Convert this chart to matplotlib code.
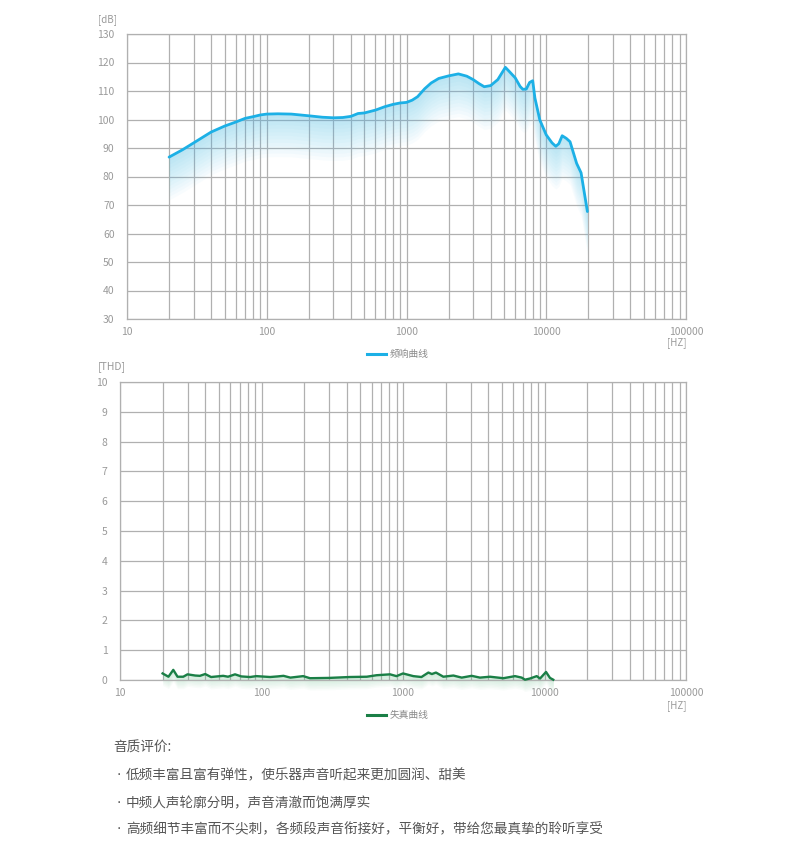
import numpy as np
import matplotlib
matplotlib.use("Agg")
import matplotlib.pyplot as plt
from matplotlib.lines import Line2D

plt.rcParams['font.family'] = ['Noto Sans CJK SC', 'DejaVu Sans']

# ---------------- data ----------------
fr_freq = [20, 25, 30, 40, 50, 60, 70, 80, 90, 100, 120, 150, 200, 250, 300, 350,
           400, 450, 500, 600, 700, 800, 900, 1000, 1100, 1200, 1350, 1500, 1700,
           2000, 2350, 2700, 3000, 3300, 3600, 4000, 4500, 5100, 5500, 6000, 6500,
           6800, 7200, 7600, 8000, 8300, 9000, 10000, 11000, 11700, 12300, 13000,
           13900, 14800, 16500, 17750, 19700]
fr_db = [86.8, 89.4, 91.8, 95.6, 97.7, 99.1, 100.4, 101.0, 101.6, 101.9, 102.0,
         101.9, 101.3, 100.8, 100.6, 100.7, 101.1, 102.1, 102.3, 103.3, 104.5,
         105.3, 105.8, 106.0, 106.8, 108.0, 110.8, 112.8, 114.4, 115.3, 116.0,
         115.2, 114.0, 112.6, 111.5, 111.9, 114.0, 118.3, 116.6, 114.6, 111.6,
         110.6, 110.7, 113.0, 113.6, 107.5, 99.8, 94.6, 91.8, 90.6, 91.5, 94.3,
         93.4, 92.2, 84.6, 81.3, 67.7]

thd_freq = [20, 22, 23.8, 25.5, 28, 30, 34, 36.7, 40, 44, 53.6, 58, 65, 72, 83, 92,
            115, 130, 143, 160, 197, 220, 300, 420, 555, 650, 810, 900, 1000, 1183,
            1350, 1511, 1600, 1710, 1928, 2270, 2600, 3057, 3498, 4120, 5118, 6190,
            6900, 7280, 7900, 8810, 9300, 10250, 10930, 11530]
thd_val = [0.22, 0.11, 0.34, 0.11, 0.11, 0.19, 0.15, 0.14, 0.20, 0.10, 0.14, 0.11,
           0.19, 0.12, 0.10, 0.13, 0.10, 0.12, 0.14, 0.08, 0.13, 0.06, 0.07, 0.10,
           0.11, 0.16, 0.19, 0.13, 0.22, 0.13, 0.10, 0.25, 0.20, 0.25, 0.11, 0.15,
           0.08, 0.14, 0.08, 0.11, 0.06, 0.13, 0.08, 0.01, 0.05, 0.13, 0.05, 0.27,
           0.07, 0.01]

fr_yticks = [30, 40, 50, 60, 70, 80, 90, 100, 110, 120, 130]
thd_yticks = [0, 1, 2, 3, 4, 5, 6, 7, 8, 9, 10]
xticks = [10, 100, 1000, 10000, 100000]
xtick_labels = ['10', '100', '1000', '10000', '100000']

fr_label = '频响曲线'
thd_label = '失真曲线'
title_text = '音质评价:'
bullets = ['低频丰富且富有弹性，使乐器声音听起来更加圆润、甜美',
           '中频人声轮廓分明，声音清澈而饱满厚实',
           '高频细节丰富而不尖刺，各频段声音衔接好，平衡好，带给您最真挚的聆听享受']

# ---------------- figure ----------------
W, H = 790, 844
fig = plt.figure(figsize=(W / 100, H / 100), dpi=100)
fig.patch.set_facecolor('white')

GRID = '#b0b0b0'
TICKC = '#9a9a9a'
BLUE = '#1cb0e6'
GREEN = '#1a7f46'


def fx(px):
    return px / W


def fy(py):
    return 1 - py / H


def style_axes(ax, ylim, yticks):
    ax.set_xscale('log')
    ax.set_xlim(10, 100000)
    ax.set_ylim(*ylim)
    ax.set_yticks(yticks)
    ax.set_xticks(xticks)
    ax.set_xticklabels(xtick_labels)
    ax.xaxis.set_minor_locator(matplotlib.ticker.LogLocator(base=10, subs=np.arange(2, 10)))
    ax.xaxis.set_minor_formatter(matplotlib.ticker.NullFormatter())
    ax.grid(True, which='both', axis='x', color=GRID, lw=0.9)
    ax.grid(True, which='major', axis='y', color=GRID, lw=0.9)
    ax.tick_params(which='both', length=0, labelsize=7.5, colors=TICKC)
    ax.tick_params(axis='x', pad=6)
    ax.tick_params(axis='y', pad=9)
    for s in ax.spines.values():
        s.set_color(GRID)
        s.set_linewidth(0.9)
    ax.set_axisbelow(True)


# ---------- top: frequency response ----------
ax1 = fig.add_axes([fx(127), fy(319), (686 - 127) / W, (319 - 34) / H])
style_axes(ax1, (30, 130), fr_yticks)
f1 = np.array(fr_freq, dtype=float)
d1 = np.array(fr_db, dtype=float)
N = 12
depth = 15.0
for i in range(N):
    ax1.fill_between(f1, d1 - depth * (i + 1) / N, d1, color='#5cc6ee',
                     alpha=0.04, lw=0, zorder=2)
ax1.plot(f1, d1, color=BLUE, lw=2.0, zorder=3, solid_capstyle='round')

fig.text(fx(98), fy(20), '[dB]', fontsize=7, color=TICKC, va='center', ha='left')
fig.text(fx(686), fy(343), '[HZ]', fontsize=7, color=TICKC, va='center', ha='right')

fig.add_artist(Line2D([fx(367), fx(386)], [fy(354), fy(354)], color=BLUE, lw=2.2))
fig.text(fx(390), fy(354), fr_label, fontsize=7, color='#8a8a8a', va='center', ha='left')

# ---------- bottom: THD ----------
ax2 = fig.add_axes([fx(120), fy(680), (686 - 120) / W, (680 - 382) / H])
style_axes(ax2, (0, 10), thd_yticks)
f2 = np.array(thd_freq, dtype=float)
v2 = np.array(thd_val, dtype=float)
M = 8
for i in range(M):
    ax2.fill_between(f2, v2 - 0.4 * (i + 1) / M, v2, color='#6cc48f',
                     alpha=0.04, lw=0, zorder=2, clip_on=False)
ax2.plot(f2, v2, color=GREEN, lw=1.7, zorder=3, clip_on=False)

fig.text(fx(98), fy(367), '[THD]', fontsize=7.5, color=TICKC, va='center', ha='left')
fig.text(fx(686), fy(706), '[HZ]', fontsize=7, color=TICKC, va='center', ha='right')

fig.add_artist(Line2D([fx(367), fx(386)], [fy(715), fy(715)], color=GREEN, lw=2.2))
fig.text(fx(390), fy(715), thd_label, fontsize=7, color='#8a8a8a', va='center', ha='left')

# ---------- text block ----------
TXT = '#555555'
fig.text(fx(113), fy(748), title_text, fontsize=9.8, color=TXT, va='center', ha='left')
ys = [775, 803, 829]
for y, b in zip(ys, bullets):
    fig.text(fx(116), fy(y), '·', fontsize=9.8, color=TXT, va='center', ha='left',
             family='DejaVu Sans')
    fig.text(fx(126), fy(y), b, fontsize=9.8, color=TXT, va='center', ha='left')

fig.savefig('out.png', dpi=100, facecolor='white')
